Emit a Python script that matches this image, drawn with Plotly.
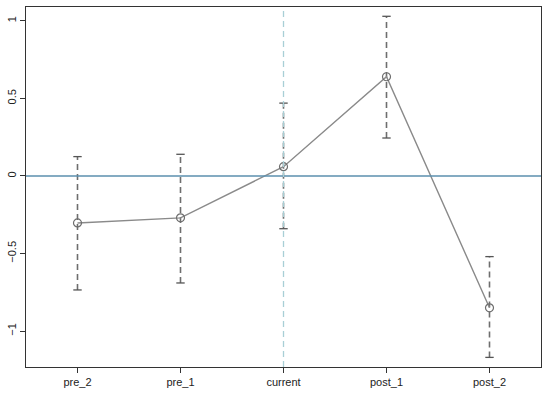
import plotly.graph_objects as go

periods = ['pre_2', 'pre_1', 'current', 'post_1', 'post_2']
coef = [-0.303, -0.27, 0.06, 0.64, -0.85]
ci_low = [-0.735, -0.69, -0.34, 0.245, -1.17]
ci_high = [0.125, 0.14, 0.47, 1.03, -0.52]

# dashed CI segments, separated with None
seg_x, seg_y = [], []
for p, lo, hi in zip(periods, ci_low, ci_high):
    seg_x += [p, p, None]
    seg_y += [lo, hi, None]

fig = go.Figure()
fig.add_trace(go.Scatter(x=seg_x, y=seg_y, mode='lines',
                         line=dict(color='#6e6e6e', width=1.6, dash='6px,4px'),
                         hoverinfo='skip'))
fig.add_trace(go.Scatter(x=periods + periods, y=ci_low + ci_high, mode='markers',
                         marker=dict(symbol='line-ew-open', size=6, color='#555555',
                                     line=dict(color='#555555', width=1.3)),
                         hoverinfo='skip'))
fig.add_trace(go.Scatter(x=periods, y=coef, mode='lines+markers',
                         line=dict(color='#8a8a8a', width=1.4),
                         marker=dict(symbol='circle-open', size=8, color='#6e6e6e',
                                     line=dict(color='#6e6e6e', width=1.2))))

fig.add_hline(y=0, line=dict(color='#5b8fae', width=1.3))
fig.add_vline(x=2, line=dict(color='#a9cfd6', width=1.3, dash='6px,4px'))

fig.update_layout(
    width=550, height=395,
    margin=dict(l=26, r=9, t=7, b=28),
    plot_bgcolor='white', paper_bgcolor='white',
    showlegend=False,
    font=dict(family='Arial, Liberation Sans', size=11, color='#222222'),
)
fig.update_xaxes(type='category', categoryorder='array', categoryarray=periods,
                 range=[-0.5, 4.5], showgrid=False, zeroline=False, automargin=False,
                 showline=True, linecolor='#333333', linewidth=1.2, mirror=True,
                 ticks='outside', ticklen=5, tickcolor='#333333')
fig.update_yaxes(range=[-1.232, 1.09], tickvals=[-1, -0.5, 0, 0.5, 1],
                 ticktext=['\u22121', '\u22120.5', '0', '0.5', '1'],
                 tickangle=-90, showgrid=False, zeroline=False, automargin=False,
                 showline=True, linecolor='#333333', linewidth=1.2, mirror=True,
                 ticks='outside', ticklen=5, tickcolor='#333333')

fig.write_html("out.html", config={'displayModeBar': False},
               post_script="document.body.style.margin='0';")
